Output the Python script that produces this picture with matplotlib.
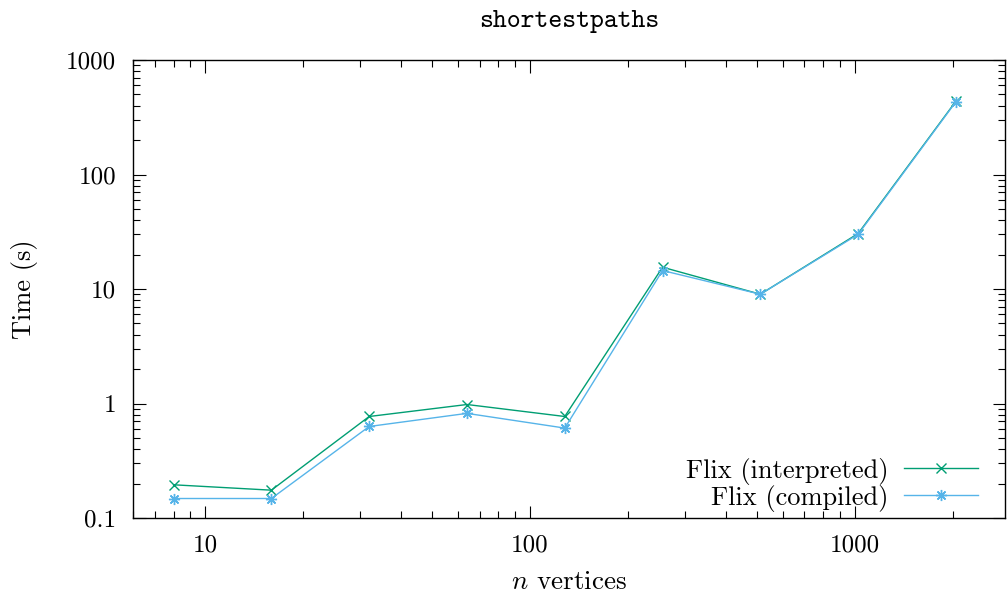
import numpy as np
import matplotlib.pyplot as plt
from matplotlib.ticker import LogLocator, NullFormatter, FixedLocator, FixedFormatter

plt.rcParams['font.family'] = 'cmr10'
plt.rcParams['mathtext.fontset'] = 'cm'
plt.rcParams['axes.formatter.use_mathtext'] = True

vertices = [8, 16, 32, 64, 128, 256, 512, 1024, 2048]
interpreted = [0.195, 0.175, 0.77, 0.98, 0.77, 15.5, 9.0, 30.5, 437]
compiled = [0.148, 0.148, 0.63, 0.82, 0.61, 14.5, 9.0, 30.0, 432]

fig = plt.figure(figsize=(10.08, 5.98), dpi=100)
ax = fig.add_axes([133 / 1008, 1 - 518 / 598, (1005 - 133) / 1008, (518 - 60) / 598])

ax.plot(vertices, interpreted, color='#009e73', lw=1.0, marker='x', ms=7, mew=1.0,
        label='Flix (interpreted)')
ax.plot(vertices, compiled, color='#56b4e9', lw=1.0, marker=(8, 2, 0), ms=8, mew=1.0,
        label='Flix (compiled)')

ax.set_xscale('log')
ax.set_yscale('log')
ax.set_xlim(6.0, 2900)
ax.set_ylim(0.1, 1000)

ax.xaxis.set_major_locator(FixedLocator([10, 100, 1000]))
ax.xaxis.set_major_formatter(FixedFormatter(['10', '100', '1000']))
ax.yaxis.set_major_locator(FixedLocator([0.1, 1, 10, 100, 1000]))
ax.yaxis.set_major_formatter(FixedFormatter(['0.1', '1', '10', '100', '1000']))
ax.xaxis.set_minor_locator(LogLocator(base=10, subs=np.arange(2, 10)))
ax.yaxis.set_minor_locator(LogLocator(base=10, subs=np.arange(2, 10)))
ax.xaxis.set_minor_formatter(NullFormatter())
ax.yaxis.set_minor_formatter(NullFormatter())

ax.tick_params(which='both', direction='in', top=True, right=True, labelsize=18, width=0.8)
ax.tick_params(which='major', length=9, pad=12)
ax.tick_params(which='minor', length=5)
for s in ax.spines.values():
    s.set_linewidth(1.0)

ax.set_xlabel('$n$ vertices', fontsize=19.5, labelpad=10)
ax.set_ylabel('Time (s)', fontsize=19, labelpad=20)
ax.set_title('shortestpaths', fontsize=19, family='cmtt10', pad=24)

ax.legend(loc='lower right', frameon=False, markerfirst=False, fontsize=19,
          handlelength=2.8, handletextpad=0.6, labelspacing=0.0,
          bbox_to_anchor=(0.981, -0.009), borderaxespad=0)

fig.savefig('out.png', dpi=100)
